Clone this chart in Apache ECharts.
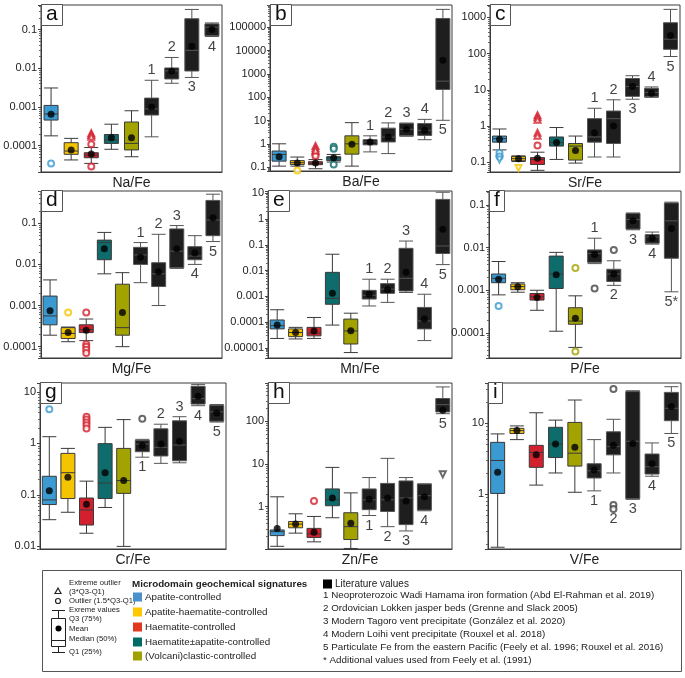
<!DOCTYPE html>
<html>
<head>
<meta charset="utf-8">
<script src="https://cdn.jsdelivr.net/npm/echarts@6/dist/echarts.min.js"></script>
<style>
  html, body { margin: 0; padding: 0; background: #fff; }
  #main { width: 685px; height: 678px; }
</style>
</head>
<body>
<div id="main"></div>
<script>
const chart = echarts.init(document.getElementById('main'))
const FONT = 'Liberation Sans, Arial, sans-serif'

const groupNames = ['Apatite-controlled', 'Apatite-haematite-controlled', 'Haematite-controlled', 'Haematite±apatite-controlled', '(Volcani)clastic-controlled']
const groupColors = ['#3a9ad1', '#f5c400', '#d3202e', '#0e6c6c', '#a2a200']
const legendColors = ['#4b8fcd', '#ffc800', '#e2381f', '#006c66', '#a0a000']
const litColor = '#1e1e1e'
const litLabels = ['1', '2', '3', '4', '5']

// boxes: [min, Q1, median, Q3, max]; 0-4 microdomains, 5+ literature
// a  Na/Fe
const naBox = [[0.00018, 0.00046, 0.00066, 0.0011, 0.0031], [0.000043, 0.00006, 0.000073, 0.00012, 0.000155], [0.000035, 0.000049, 0.000057, 0.000066, 0.00009], [0.000081, 0.000115, 0.00014, 0.000195, 0.00036], [0.000052, 0.000078, 0.000115, 0.00041, 0.0008], [0.00017, 0.00062, 0.00089, 0.0017, 0.0049], [0.0041, 0.0053, 0.0086, 0.0102, 0.019], [0.0058, 0.0085, 0.029, 0.19, 0.33], [0.066, 0.069, 0.115, 0.14, 0.148]]
const naMean = [0.00065, 0.000078, 0.000061, 0.000161, 0.00016, 0.001, 0.0084, 0.037, 0.1]
const naOut = [[0, 0.000035], [2, 0.00011], [2, 0.000029]]
const naExt = [[2, 0.00021], [2, 0.00019], [2, 0.00017]]
const naSide = ['t', 't', 'b', 'b']
const naRange = [0.000021, 0.43]

// b  Ba/Fe
const baBox = [[0.11, 0.18, 0.35, 0.49, 1.0], [0.11, 0.13, 0.155, 0.19, 0.27], [0.085, 0.127, 0.145, 0.17, 0.21], [0.165, 0.19, 0.25, 0.28, 0.35], [0.11, 0.36, 1.0, 2.2, 8.1], [0.45, 0.9, 1.2, 1.5, 2.2], [0.38, 1.2, 1.95, 4.7, 7.9], [2.1, 2.25, 4.2, 7.4, 7.8], [1.5, 2.3, 3.8, 7.4, 11.2], [10.2, 215, 490, 240000, 590000]]
const baMean = [0.28, 0.15, 0.15, 0.25, 0.96, 1.2, 1.95, 4.2, 3.8, 3900]
const baOut = [[1, 0.072], [2, 0.35], [2, 0.3], [3, 0.75], [3, 0.62], [3, 0.13]]
const baExt = [[2, 0.8], [2, 0.65], [2, 0.52]]
const baSide = ['t', 't', 't', 't', 'b']
const baRange = [0.068, 910000]

// c  Sr/Fe
const srBox = [[0.22, 0.36, 0.45, 0.53, 0.83], [0.105, 0.11, 0.126, 0.146, 0.15], [0.06, 0.087, 0.12, 0.135, 0.19], [0.12, 0.28, 0.35, 0.5, 0.91], [0.095, 0.115, 0.28, 0.33, 0.53], [0.14, 0.36, 0.5, 1.6, 3.1], [0.14, 0.33, 1.6, 2.6, 5.3], [5.5, 6.6, 12.3, 20.5, 24.5], [6.2, 6.4, 8.5, 11, 12], [83, 131, 250, 710, 1660]]
const srMean = [0.43, 0.125, 0.13, 0.35, 0.21, 0.65, 1.0, 12.3, 8, 313]
const srOut = [[0, 0.18], [0, 0.145], [2, 0.29]]
const srExt = [[2, 2.0], [2, 1.75], [2, 1.5], [2, 0.65], [2, 0.54]]
const srExtDown = [[0, 0.12], [1, 0.07]]
const srSide = ['t', 't', 'b', 't', 'b']
const srRange = [0.054, 2190]

// d  Mg/Fe
const mgBox = [[0.00019, 0.00034, 0.00056, 0.0017, 0.0042], [0.000132, 0.000158, 0.00021, 0.00029, 0.0003], [0.00014, 0.00022, 0.00026, 0.00034, 0.00047], [0.0059, 0.013, 0.034, 0.039, 0.06], [0.0001, 0.00019, 0.00029, 0.0033, 0.0063], [0.0036, 0.01, 0.017, 0.026, 0.034], [0.001, 0.0029, 0.0059, 0.011, 0.054], [0.008, 0.0083, 0.021, 0.073, 0.088], [0.01, 0.013, 0.016, 0.027, 0.05], [0.036, 0.05, 0.12, 0.36, 0.51]]
const mgMean = [0.00075, 0.00022, 0.00025, 0.024, 0.00068, 0.015, 0.0066, 0.024, 0.019, 0.137]
const mgOut = [[1, 0.00068], [2, 0.00068], [2, 0.000115], [2, 0.0001], [2, 0.000084], [2, 0.00007]]
const mgSide = ['t', 't', 't', 'b', 'b']
const mgRange = [0.000053, 0.61]

// e  Mn/Fe
const mnBox = [[0.000023, 0.000054, 0.000072, 0.00012, 0.0003], [0.000022, 0.000027, 0.000039, 0.000054, 0.000062], [0.000023, 0.000029, 0.000037, 0.000062, 0.00015], [0.000076, 0.00049, 0.00083, 0.0085, 0.043], [0.0000065, 0.000014, 0.000045, 0.00013, 0.00022], [0.00042, 0.00078, 0.0011, 0.0017, 0.0046], [0.00058, 0.0013, 0.0019, 0.0031, 0.0046], [0.0014, 0.0016, 0.005, 0.073, 0.14], [0.000019, 0.000054, 0.00011, 0.00037, 0.0012], [0.017, 0.046, 0.09, 5.8, 11]]
const mnMean = [0.000076, 0.000039, 0.000045, 0.0013, 0.000046, 0.0012, 0.0018, 0.0085, 0.00013, 0.4]
const mnSide = ['t', 't', 't', 't', 'b']
const mnRange = [0.000004, 12.3]

// f  P/Fe
const pBox = [[0.00078, 0.0015, 0.0019, 0.0024, 0.0047], [0.0009, 0.00103, 0.00122, 0.0014, 0.0015], [0.00034, 0.00059, 0.0007, 0.00084, 0.001], [0.00011, 0.0011, 0.0024, 0.0063, 0.0077], [0.000046, 0.00016, 0.00019, 0.00039, 0.00074], [0.0042, 0.0045, 0.0072, 0.0088, 0.0165], [0.0013, 0.0016, 0.0024, 0.0031, 0.0049], [0.026, 0.027, 0.045, 0.063, 0.064], [0.012, 0.0126, 0.0177, 0.02, 0.023], [0.00092, 0.0056, 0.042, 0.11, 0.115]]
const pMean = [0.0018, 0.0012, 0.00068, 0.0023, 0.00022, 0.0069, 0.0024, 0.042, 0.0165, 0.028]
const pOut = [[0, 0.00043], [4, 0.0033], [4, 0.000037], [5, 0.0011], [6, 0.0088]]
const pSide = ['t', 'b', 'b', 'b', 'b']
const pLabels = ['1', '2', '3', '4', '5*']
const pRange = [0.000026, 0.21]

// g  Cr/Fe
const crBox = [[0.033, 0.065, 0.08, 0.23, 1.35], [0.046, 0.085, 0.27, 0.64, 0.8], [0.018, 0.026, 0.051, 0.087, 0.185], [0.057, 0.085, 0.17, 0.99, 2.05], [0.01, 0.107, 0.19, 0.8, 2.9], [0.54, 0.69, 0.97, 1.15, 1.2], [0.41, 0.57, 0.84, 1.92, 2.36], [0.42, 0.46, 0.93, 2.75, 3.3], [5.4, 5.8, 7.4, 12.9, 14], [2.6, 2.7, 4.1, 5.5, 5.7]]
const crMean = [0.12, 0.22, 0.066, 0.27, 0.19, 0.91, 0.97, 1.1, 8.2, 3.9]
const crOut = [[0, 4.6], [2, 3.3], [2, 2.9], [2, 2.55], [2, 2.25], [2, 1.95], [5, 3.0]]
const crSide = ['b', 't', 't', 'b', 'b']
const crRange = [0.0089, 14.9]

// h  Zn/Fe
const znBox = [[0.118, 0.21, 0.26, 0.285, 1.7], [0.24, 0.32, 0.39, 0.45, 0.68], [0.15, 0.19, 0.23, 0.31, 0.59], [0.55, 1.05, 1.45, 2.6, 8.3], [0.105, 0.17, 0.34, 0.72, 2.1], [0.62, 0.85, 1.45, 2.6, 4.8], [0.34, 0.77, 1.45, 3.5, 13.5], [0.27, 0.38, 1.6, 4.0, 4.8], [0.8, 0.83, 1.8, 3.4, 3.4], [150, 165, 245, 340, 635]]
const znMean = [0.31, 0.39, 0.25, 1.6, 0.41, 1.5, 1.6, 1.35, 1.7, 180]
const znOut = [[2, 1.35]]
const znExtDown = [[9, 5.7]]
const znSide = ['b', 'b', 'b', 'b', 'b']
const znRange = [0.102, 785]

// i  V/Fe
const vBox = [[0.18, 1.03, 3.0, 5.4, 7.1], [5.9, 7.2, 7.9, 8.5, 9.2], [1.35, 2.4, 3.9, 4.9, 14.1], [2.0, 3.3, 5.1, 8.8, 11.1], [1.07, 2.5, 3.8, 10.3, 21.3], [1.12, 1.7, 2.15, 2.7, 5.9], [2.0, 3.6, 4.7, 7.6, 11.4], [0.85, 0.87, 5.6, 28, 28.8], [1.8, 1.93, 2.45, 3.7, 5.3], [7.2, 10.9, 16.3, 27.3, 32.8]]
const vMean = [2.04, 7.9, 3.6, 5.1, 4.6, 2.2, 4.9, 5.2, 2.7, 17.2]
const vOut = [[6, 30.5], [6, 0.71], [6, 0.62]]
const vSide = ['b', 'b', 'b', 'b', 'b']
const vRange = [0.17, 37]

const literatureNotes = [
  '1 Neoproterozoic Wadi Hamama iron formation (Abd El-Rahman et al. 2019)',
  '2 Ordovician Lokken jasper beds (Grenne and Slack 2005)',
  '3 Modern Tagoro vent precipitate (González et al. 2020)',
  '4 Modern Loihi vent precipitate (Rouxel et al. 2018)',
  '5 Particulate Fe from the eastern Pacific (Feely et al. 1996; Rouxel et al. 2016)',
  '* Additional values used from Feely et al. (1991)'
]

const panels = [
  { id: 'a', name: 'Na/Fe', box: naBox, mean: naMean, out: naOut, ext: naExt, side: naSide, range: naRange },
  { id: 'b', name: 'Ba/Fe', box: baBox, mean: baMean, out: baOut, ext: baExt, side: baSide, range: baRange },
  { id: 'c', name: 'Sr/Fe', box: srBox, mean: srMean, out: srOut, ext: srExt, extDown: srExtDown, side: srSide, range: srRange },
  { id: 'd', name: 'Mg/Fe', box: mgBox, mean: mgMean, out: mgOut, side: mgSide, range: mgRange },
  { id: 'e', name: 'Mn/Fe', box: mnBox, mean: mnMean, side: mnSide, range: mnRange },
  { id: 'f', name: 'P/Fe', box: pBox, mean: pMean, out: pOut, side: pSide, labels: pLabels, range: pRange },
  { id: 'g', name: 'Cr/Fe', box: crBox, mean: crMean, out: crOut, side: crSide, range: crRange },
  { id: 'h', name: 'Zn/Fe', box: znBox, mean: znMean, out: znOut, extDown: znExtDown, side: znSide, range: znRange },
  { id: 'i', name: 'V/Fe', box: vBox, mean: vMean, out: vOut, side: vSide, range: vRange }
]

// grid rects [left, top, width, height]
const layout = [
  [41, 5, 181, 167], [270, 5, 182, 166], [490, 5, 190, 167],
  [41, 191, 181, 167], [268, 191, 184, 167], [489, 191, 192, 167],
  [40, 383, 186, 166], [268, 383, 184, 166], [488, 383, 193, 166]
]

function fmtPow(v) {
  const e = Math.log10(v)
  const r = Math.round(e)
  if (Math.abs(e - r) > 1e-6) return ''
  return r >= 0 ? String(Math.pow(10, r)) : Math.pow(10, r).toFixed(-r)
}

function dotColor(k) {
  return k < 5 ? groupColors[k] : '#444'
}

let grids = [], xAxes = [], yAxes = [], series = [], titles = []

panels.forEach((p, i) => {
  const [l, t, w, h] = layout[i]
  grids.push({
    left: l, top: t, width: w, height: h,
    show: true, borderColor: '#3a3a3a', borderWidth: 1, backgroundColor: '#fff',
    containLabel: false, outerBoundsMode: 'none'
  })
  const cats = groupNames.concat(litLabels).slice(0, p.box.length)
  xAxes.push({
    gridIndex: i, type: 'category', data: cats,
    axisLabel: { show: false }, axisTick: { show: false },
    axisLine: { lineStyle: { color: '#3a3a3a' } },
    name: p.name, nameLocation: 'middle', nameGap: 4,
    nameTextStyle: { fontSize: 14, color: '#222', fontFamily: FONT }
  })
  yAxes.push({
    gridIndex: i, type: 'log', logBase: 10, min: p.range[0], max: p.range[1],
    axisLine: { show: true, lineStyle: { color: '#3a3a3a' } },
    axisTick: { show: true, length: 3, lineStyle: { color: '#444' } },
    minorTick: { show: true, splitNumber: 9, length: 2, lineStyle: { color: '#666' } },
    splitLine: { show: false },
    axisLabel: { fontSize: 11, color: '#222', margin: 4, fontFamily: FONT, formatter: fmtPow }
  })
  titles.push({
    text: p.id, left: l, top: t,
    padding: [0, 5, 1, 5], borderWidth: 1, borderColor: '#555', backgroundColor: '#fff',
    textStyle: { fontSize: 21, fontWeight: 'normal', color: '#111', fontFamily: FONT, lineHeight: 19 }
  })

  series.push({
    type: 'boxplot', xAxisIndex: i, yAxisIndex: i, silent: true,
    boxWidth: [14, 14],
    itemStyle: { borderColor: '#3a3a3a', borderWidth: 1 },
    data: p.box.map((v, k) => ({
      value: v,
      itemStyle: { color: k < 5 ? groupColors[k] : litColor, borderColor: k < 5 ? '#3a3a3a' : '#555' }
    }))
  })
  if (p.out) series.push({
    type: 'scatter', xAxisIndex: i, yAxisIndex: i, silent: true,
    symbol: 'emptyCircle', symbolSize: 6,
    data: p.out.map(([k, v]) => ({ value: [k, v], itemStyle: { color: dotColor(k), borderColor: dotColor(k) } }))
  })
  if (p.ext) series.push({
    type: 'scatter', xAxisIndex: i, yAxisIndex: i, silent: true,
    symbol: 'emptyTriangle', symbolSize: 6,
    data: p.ext.map(([k, v]) => ({ value: [k, v], itemStyle: { color: dotColor(k), borderColor: dotColor(k) } }))
  })
  if (p.extDown) series.push({
    type: 'scatter', xAxisIndex: i, yAxisIndex: i, silent: true,
    symbol: 'emptyTriangle', symbolSize: 6, symbolRotate: 180,
    data: p.extDown.map(([k, v]) => ({ value: [k, v], itemStyle: { color: dotColor(k), borderColor: dotColor(k) } }))
  })
  series.push({
    type: 'scatter', xAxisIndex: i, yAxisIndex: i, silent: true, z: 4,
    symbol: 'circle', symbolSize: 7, itemStyle: { color: '#000' },
    data: p.mean.map((v, k) => [k, v])
  })
  // literature numbers, placed at the whisker end
  const labels = p.labels || litLabels
  series.push({
    type: 'scatter', xAxisIndex: i, yAxisIndex: i, silent: true, z: 5,
    symbolSize: 1, itemStyle: { color: 'rgba(0,0,0,0)' },
    clip: false,
    data: p.side.map((s, j) => {
      const k = j + 5
      const b = p.box[k]
      const outs = (p.out || []).filter(o => o[0] === k).map(o => o[1])
      const v = s === 't' ? Math.max(b[4], ...outs) : Math.min(b[0], ...outs)
      return {
        value: [k, v],
        label: {
          show: true, position: s === 't' ? 'top' : 'bottom', distance: 2,
          formatter: labels[j], fontSize: 14.5, color: '#111', fontFamily: FONT
        }
      }
    })
  })
})

// legend box drawn as graphics
const txt = (x, y, text, size, weight) => ({
  type: 'text', x: x, y: y,
  style: { text: text, fontSize: size, fontWeight: weight || 'normal', fontFamily: FONT, fill: '#222', verticalAlign: 'middle', textVerticalAlign: 'middle' }
})

let graphics = [
  { type: 'rect', shape: { x: 42.5, y: 570.5, width: 639, height: 101 }, style: { fill: '#fff', stroke: '#555', lineWidth: 1 } },
  // key drawing
  { type: 'polygon', shape: { points: [[58, 588], [55, 593.5], [61, 593.5]] }, style: { fill: 'none', stroke: '#222', lineWidth: 1.2 } },
  { type: 'circle', shape: { cx: 58, cy: 601, r: 2.5 }, style: { fill: 'none', stroke: '#222', lineWidth: 1.2 } },
  { type: 'line', shape: { x1: 52, y1: 610.5, x2: 65, y2: 610.5 }, style: { stroke: '#222' } },
  { type: 'line', shape: { x1: 58.5, y1: 610, x2: 58.5, y2: 618 }, style: { stroke: '#222' } },
  { type: 'rect', shape: { x: 51.5, y: 618.5, width: 14, height: 28 }, style: { fill: '#fff', stroke: '#222' } },
  { type: 'circle', shape: { cx: 58.5, cy: 628.5, r: 3 }, style: { fill: '#000' } },
  { type: 'line', shape: { x1: 52, y1: 640.5, x2: 65, y2: 640.5 }, style: { stroke: '#222' } },
  { type: 'line', shape: { x1: 58.5, y1: 647, x2: 58.5, y2: 652 }, style: { stroke: '#222' } },
  { type: 'line', shape: { x1: 52, y1: 652.5, x2: 65, y2: 652.5 }, style: { stroke: '#222' } },
  txt(69, 583, 'Extreme outlier', 7.7),
  txt(69, 591.5, '(3*Q3-Q1)', 7.7),
  txt(69, 601, 'Outlier (1.5*Q3-Q1)', 7.7),
  txt(69, 610, 'Exreme values', 7.7),
  txt(69, 618.5, 'Q3 (75%)', 7.7),
  txt(69, 628.5, 'Mean', 7.7),
  txt(69, 639, 'Median (50%)', 7.7),
  txt(69, 652, 'Q1 (25%)', 7.7),
  txt(132, 584, 'Microdomain geochemical signatures', 9.8, 'bold'),
  { type: 'rect', shape: { x: 323, y: 579.5, width: 9, height: 9 }, style: { fill: '#000' } },
  txt(335, 584, 'Literature values', 10)
]
const legendRows = [597, 612, 627, 642, 656]
groupNames.forEach((n, k) => {
  graphics.push({ type: 'rect', shape: { x: 133, y: legendRows[k] - 4.5, width: 9, height: 9 }, style: { fill: legendColors[k] } })
  graphics.push(txt(145, legendRows[k], n, 9.8))
})
const noteRows = [595, 608, 621, 634, 647, 660]
literatureNotes.forEach((n, k) => graphics.push(txt(323, noteRows[k], n, 9.8)))

chart.setOption({
  animation: false,
  backgroundColor: '#fff',
  textStyle: { fontFamily: FONT },
  title: titles,
  grid: grids,
  xAxis: xAxes,
  yAxis: yAxes,
  series: series,
  graphic: graphics
})
</script>
</body>
</html>
